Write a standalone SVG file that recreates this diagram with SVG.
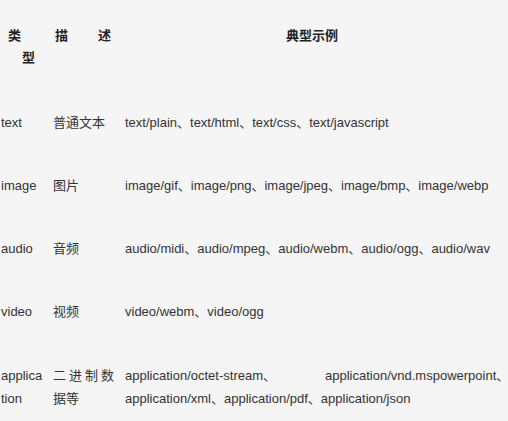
<svg xmlns="http://www.w3.org/2000/svg" width="508" height="421" viewBox="0 0 508 421">
<style>
text{font-family:"Liberation Sans","Noto Sans CJK SC",Arial,sans-serif;font-size:13px;fill:#333}
.h{font-weight:bold;fill:#222}
</style>
<rect x="0" y="0" width="508" height="421" fill="#f5f5f5"/>
<g id="header">
<text class="h" x="8" y="40">类</text>
<text class="h" x="22" y="62">型</text>
<text class="h" x="55" y="40">描</text>
<text class="h" x="98" y="40">述</text>
<text class="h" x="286" y="40">典型示例</text>
</g>
<g id="row-text">
<text x="1" y="127">text</text>
<text x="53" y="127">普通文本</text>
<text x="125" y="127">text/plain、text/html、text/css、text/javascript</text>
</g>
<g id="row-image">
<text x="1" y="190">image</text>
<text x="53" y="190">图片</text>
<text x="125" y="190">image/gif、image/png、image/jpeg、image/bmp、image/webp</text>
</g>
<g id="row-audio">
<text x="1" y="253">audio</text>
<text x="53" y="253">音频</text>
<text x="125" y="253">audio/midi、audio/mpeg、audio/webm、audio/ogg、audio/wav</text>
</g>
<g id="row-video">
<text x="1" y="316">video</text>
<text x="53" y="316">视频</text>
<text x="125" y="316">video/webm、video/ogg</text>
</g>
<g id="row-application">
<text x="1" y="380">applica</text>
<text x="1" y="403">tion</text>
<text x="53" y="380" textLength="61" lengthAdjust="spacing">二进制数</text>
<text x="53" y="403">据等</text>
<text x="125" y="380">application/octet-stream、</text>
<text x="325" y="380">application/vnd.mspowerpoint、</text>
<text x="125" y="403">application/xml、application/pdf、application/json</text>
</g>
</svg>
